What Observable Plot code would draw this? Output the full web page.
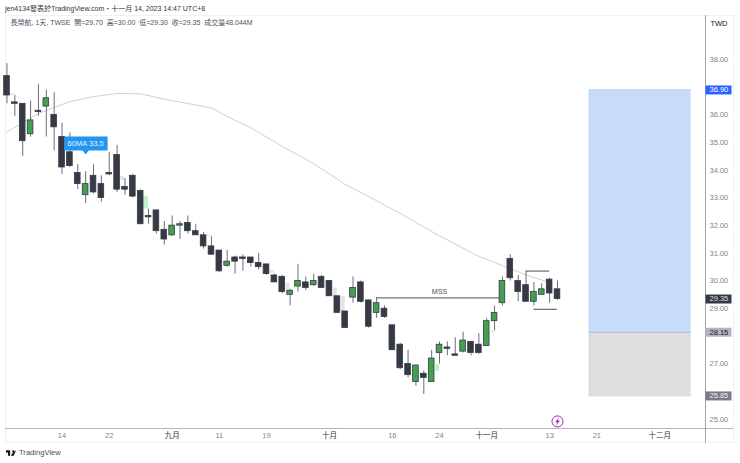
<!DOCTYPE html>
<html>
<head>
<meta charset="utf-8">
<script src="https://cdn.jsdelivr.net/npm/d3@7"></script>
<script src="https://cdn.jsdelivr.net/npm/@observablehq/plot@0.6"></script>
<style>
  html, body { margin: 0; padding: 0; background: #fff; }
  body { width: 740px; height: 463px; position: relative; overflow: hidden;
         font-family: "Liberation Sans", "Noto Sans CJK TC", sans-serif; }
  #head { position: absolute; left: 5px; top: 4px; font-size: 7px; line-height: 10px; color: #30343c; white-space: nowrap; }
  #chart { position: absolute; left: 0; top: 15px; }
  #chart svg { display: block; background: transparent; }
  #chart svg text { white-space: pre; }
  #frame { position: absolute; left: 5px; top: 15px; width: 729px; height: 428px; border: 1px solid #f0f1f4; box-sizing: border-box; }
  #foot { position: absolute; left: 6px; top: 448px; font-size: 7.6px; line-height: 10px; color: #4a4e58; display: flex; align-items: center; gap: 3px; }
</style>
</head>
<body>
<div id="frame"></div>
<div id="head">jen4134發表於TradingView.com・十一月 14, 2023 14:47 UTC+8</div>
<div id="chart"></div>
<div id="foot"><svg width="10" height="6" viewBox="0 0 36 20"><path fill="#131722" d="M0 0h15v20H7V8H0zM26 0a4 4 0 1 1 0 8 4 4 0 0 1 0-8zM17 20l8-12h0l11-8-8 20z"/></svg><span>TradingView</span></div>
<script>
// Daily candles, oldest first
const opens = [37.40,36.45,36.40,35.30,36.15,36.30,36.00,35.20,34.65,33.90,33.10,33.80,33.50,33.90,34.55,33.40,33.80,33.25,32.35,32.55,31.85,31.65,32.00,32.10,31.80,31.65,31.25,31.10,30.55,30.85,30.85,30.85,30.65,30.60,30.20,30.15,29.50,29.80,29.95,29.85,30.15,30.00,29.45,28.90,29.40,29.95,29.30,28.85,29.00,28.40,27.70,27.00,26.35,26.65,26.35,27.40,27.60,27.35,27.45,27.80,27.70,27.65,28.55,29.20,30.80,30.00,29.85,29.25,29.50,30.05,29.70];
const highs = [37.85,36.70,36.40,36.50,37.10,36.90,36.80,35.70,35.35,34.20,33.95,34.20,33.80,34.65,34.90,33.70,33.85,33.30,32.60,32.55,32.15,32.35,32.15,32.35,32.05,31.75,31.60,31.10,31.10,30.90,30.95,30.85,31.00,30.60,30.25,30.20,29.70,30.60,30.15,30.25,30.20,30.00,29.45,28.90,30.15,30.00,29.30,29.40,29.10,28.40,27.75,27.50,26.95,26.75,27.50,27.80,27.80,27.95,28.15,27.80,28.10,28.65,29.10,30.15,30.95,30.20,30.35,29.95,29.90,30.10,30.00];
const lows = [36.40,35.95,34.50,35.20,35.95,35.20,34.70,33.85,34.10,33.30,32.80,33.15,32.85,33.80,33.20,33.10,33.00,32.05,32.05,31.70,31.30,31.60,31.50,31.70,31.65,31.15,30.95,30.30,30.50,30.25,30.35,30.50,30.40,30.20,29.95,29.55,29.10,29.60,29.65,29.80,29.75,29.45,28.85,28.30,29.20,29.20,28.30,28.65,28.65,27.50,26.80,26.50,26.20,25.90,26.35,27.00,27.30,27.30,27.40,27.30,27.35,27.65,28.20,29.10,30.00,29.25,29.25,29.10,29.50,29.20,29.30];
const closes = [36.70,36.40,35.05,35.80,36.10,36.60,35.55,34.10,34.15,33.50,33.50,33.20,33.00,33.85,33.30,33.30,33.05,32.05,32.30,31.80,31.50,32.00,32.05,31.80,31.65,31.25,30.95,30.35,30.70,30.70,30.80,30.65,30.50,30.25,29.95,29.60,29.65,30.00,29.75,30.00,29.75,29.45,28.85,28.30,29.75,29.25,28.35,29.20,28.70,27.50,26.85,26.60,26.95,26.50,27.20,27.70,27.55,27.30,27.85,27.40,27.40,28.55,28.85,30.00,30.10,29.60,29.25,29.60,29.70,29.55,29.35];

// 60-day moving average, read at these session numbers
const maSessions = [0,2,4,6,8,11,14,17,20,23,26,29,31,35,39,43,46,50,55,60,63,66,69];
const maValues = [35.38,35.72,36.05,36.27,36.48,36.66,36.77,36.76,36.57,36.41,36.25,35.80,35.54,34.86,34.24,33.49,33.05,32.44,31.63,30.89,30.56,30.22,29.94];

// Faint imbalance patches beside candles
const gapStart = [0.2,14.4,17.4,25.5,33.5,35.45,41.5,42.4,54.5,61.6];
const gapEnd = [0.9,15,18,26,34,36,42,43,55,62];
const gapTop = [36.78,33.77,33.05,31.64,30.38,29.93,29.74,29.44,26.98,28.19];
const gapBottom = [36.70,33.63,32.60,31.61,30.28,29.68,29.47,28.90,26.74,28.12];
const gapKind = ["down","down","up","up","down","down","down","down","up","up"];

// Trade box
const boxStart = 74, boxEnd = 87;
const targetPrice = 36.90, entryPrice = 28.15, stopPrice = 25.85;

// Drawn levels
const mssLevel = {from: 47, to: 63, price: 29.39, label: "MSS"};
const upperLevel = {from: 66, to: 69, price: 30.36};
const lowerLevel = {from: 67, to: 70, price: 28.98};

// Price axis (37, 28 and 26 sit under the price tags)
const yTicks = [38,36,35,34,33,32,31,30,29,27,25];
const priceTags = [36.90,29.35,28.15,25.85];
const tagLabels = ["36.90","29.35","28.15","25.85"];
const tagFill = ["#2962ff","#363a45","#b2b5be","#787b86"];
const tagText = ["#ffffff","#d8dae0","#131722","#eceef2"];

// Date axis
const dayTicks = [7,13,27,33,49,55,69,75];
const dayLabels = ["14","22","11","19","16","24","13","21"];
const monthTicks = [21,41,61,83];
const monthLabels = ["九月","十月","十一月","十二月"];

// Text
const legendText = "長榮航, 1天, TWSE  開=29.70  高=30.00  低=29.30  收=29.35  成交量48.044M";
const maCallout = "60MA 33.5";
const currency = "TWD";

const xDomain = [-0.19, 88.82];
const yDomain = [24.674, 39.589];

const candles = opens.map((o, i) => ({i, o, h: highs[i], l: lows[i], c: closes[i], up: closes[i] >= o}));
const ma = maSessions.map((s, k) => ({s, v: maValues[k]}));
const gaps = gapStart.map((g, k) => ({a: g, b: gapEnd[k], t: gapTop[k], u: gapBottom[k], kind: gapKind[k]}));
const tags = priceTags.map((v, k) => ({v, label: tagLabels[k], fill: tagFill[k], text: tagText[k]}));
const half = 0.36;

const tagSymbol = {draw(ctx) { ctx.moveTo(0, -4.5); ctx.lineTo(26, -4.5); ctx.lineTo(26, 4.5); ctx.lineTo(0, 4.5); ctx.closePath(); }};
const calloutSymbol = {draw(ctx) {
  ctx.moveTo(-21.5, -19); ctx.lineTo(22, -19); ctx.lineTo(22, -5); ctx.lineTo(3, -5);
  ctx.lineTo(0, -1); ctx.lineTo(-3, -5); ctx.lineTo(-21.5, -5); ctx.closePath();
}};
const boltSymbol = {draw(ctx) {
  ctx.moveTo(1.6, -4); ctx.lineTo(-2.4, 0.8); ctx.lineTo(-0.3, 0.8); ctx.lineTo(-1.6, 4);
  ctx.lineTo(2.4, -1); ctx.lineTo(0.3, -1); ctx.closePath();
}};

const levelLine = (l) => Plot.ruleY([l], {x1: "from", x2: "to", y: "price", stroke: "#4a4e58", strokeWidth: 1});

const chart = Plot.plot({
  width: 740,
  height: 430,
  marginTop: 0,
  marginLeft: 5,
  marginRight: 35,
  marginBottom: 17,
  style: {fontFamily: '"Liberation Sans","Noto Sans CJK TC",sans-serif', background: "transparent"},
  x: {domain: xDomain, axis: null},
  y: {domain: yDomain, axis: null},
  marks: [
    // trade box
    Plot.rect([0], {x1: boxStart, x2: boxEnd, y1: entryPrice, y2: targetPrice, fill: "#c6dcf9"}),
    Plot.rect([0], {x1: boxStart, x2: boxEnd, y1: stopPrice, y2: entryPrice, fill: "#dedee0"}),
    Plot.ruleY([targetPrice, entryPrice, stopPrice], {x1: boxStart, x2: boxEnd, stroke: (d) => d === entryPrice ? "#aab4c6" : d === targetPrice ? "#b8d0f2" : "#d2d2d4", strokeWidth: 1}),
    // imbalance patches
    Plot.rect(gaps, {x1: "a", x2: "b", y1: "u", y2: "t", fill: (d) => d.kind === "up" ? "#bdf3c8" : "#e4e6e4"}),
    // moving average
    Plot.line(ma, {x: "s", y: "v", stroke: "#d0d0d0", strokeWidth: 1, curve: "linear"}),
    // levels
    levelLine(mssLevel),
    levelLine(upperLevel),
    levelLine(lowerLevel),
    Plot.text([mssLevel], {x: (d) => (d.from + d.to) / 2, y: "price", text: "label", dy: -6, fontSize: 7.2, fill: "#4a4e58"}),
    // candles
    Plot.ruleX(candles, {x: "i", y1: "l", y2: "h", stroke: "#6a6e78", strokeWidth: 1}),
    Plot.rect(candles, {x1: (d) => d.i - half, x2: (d) => d.i + half, y1: "o", y2: "c", fill: (d) => d.up ? "#43a04f" : "#363a45", stroke: "#363a45", strokeWidth: 0.8}),
    // callout
    Plot.dot([{i: 10, p: 34.53}], {x: "i", y: "p", r: 5, symbol: calloutSymbol, fill: "#2196f3", stroke: "none"}),
    Plot.text([maCallout], {x: () => 10, y: () => 34.53, text: (d) => d, dy: -12, fontSize: 7.6, fill: "#e8f4ff"}),
    // alert icon
    Plot.dot([{i: 70, p: 24.93}], {x: "i", y: "p", r: 5.5, fill: "#fff", stroke: "#9c27b0", strokeWidth: 1}),
    Plot.dot([{i: 70, p: 24.93}], {x: "i", y: "p", r: 3, symbol: boltSymbol, fill: "#9c27b0", stroke: "none"}),
    // axis lines
    Plot.ruleY([yDomain[0]], {x1: xDomain[0], x2: 92.4, stroke: "#b4b6bb", strokeWidth: 1.2}),
    Plot.ruleX([xDomain[1]], {y1: 24.13, y2: yDomain[1], stroke: "#a0a3aa", strokeWidth: 1}),
    // axes
    Plot.axisY({anchor: "right", ticks: yTicks, tickSize: 0, tickPadding: 4, tickFormat: d3.format(".2f"), fontSize: 7.5, fill: "#7f828c", label: null}),
    Plot.axisX({anchor: "bottom", ticks: dayTicks, tickSize: 0, tickPadding: 4, tickFormat: (d) => dayLabels[dayTicks.indexOf(d)], fontSize: 7.5, fill: "#7f828c", label: null}),
    Plot.axisX({anchor: "bottom", ticks: monthTicks, tickSize: 0, tickPadding: 4, tickFormat: (d) => monthLabels[monthTicks.indexOf(d)], fontSize: 7.5, fill: "#30343c", label: null}),
    // price tags
    Plot.dot(tags, {y: "v", frameAnchor: "right", r: 5, symbol: tagSymbol, fill: "fill", stroke: "none"}),
    Plot.text(tags, {y: "v", frameAnchor: "right", text: "label", textAnchor: "start", dx: 4, fontSize: 7.5, fill: "text"}),
    // legend and currency
    Plot.text([legendText], {frameAnchor: "top-left", dx: 5, dy: 5, fontSize: 7, fill: "#50535e", text: (d) => d, lineAnchor: "top"}),
    Plot.text([currency], {frameAnchor: "top-right", dx: 22, dy: 5, fontSize: 7.5, fill: "#131722", text: (d) => d, lineAnchor: "top"})
  ]
});
document.getElementById("chart").appendChild(chart);
</script>
</body>
</html>
